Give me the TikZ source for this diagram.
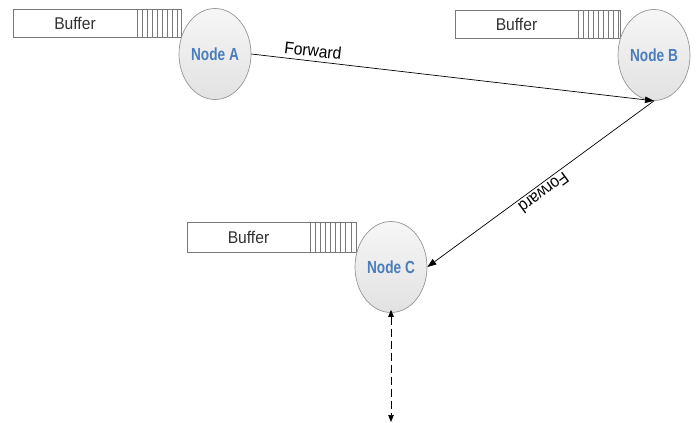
\documentclass[tikz,border=0pt]{standalone}
\usepackage{fontspec}
\setmainfont{Liberation Sans}
\newfontfamily\bufferfont[FakeStretch=0.92]{Liberation Sans}
\newfontfamily\nodefont[FakeStretch=0.78]{Liberation Sans}
\usetikzlibrary{arrows.meta,shapes.geometric,calc}
\definecolor{nodeblue}{RGB}{74,126,187}
\definecolor{nodeedge}{RGB}{150,150,150}
\definecolor{nodetop}{RGB}{246,246,246}
\definecolor{nodebot}{RGB}{226,226,226}
\definecolor{bufedge}{RGB}{120,120,120}
\definecolor{buftextcol}{RGB}{50,50,50}
\tikzset{
  station/.style={ellipse, draw=nodeedge, line width=0.7pt,
    top color=nodetop, bottom color=nodebot,
    minimum width=72pt, minimum height=91pt, inner sep=0pt,
    font=\nodefont\bfseries\fontsize{17.5}{18}\selectfont, text=nodeblue},
  bufbox/.style={draw=bufedge, line width=0.7pt, fill=white,
    minimum height=28pt, inner sep=0pt, anchor=north west},
  hatch/.style={draw=bufedge, line width=0.6pt},
  buftext/.style={font=\bufferfont\fontsize{17}{17}\selectfont, text=buftextcol, inner sep=0pt},
  fwdtext/.style={font=\bufferfont\fontsize{17}{17}\selectfont, text=black},
  link/.style={draw=black, line width=0.7pt, -{Triangle[length=9pt,width=6.5pt]}},
  dlink/.style={draw=black, line width=0.7pt, dash pattern=on 8pt off 4pt,
    {Triangle[length=7pt,width=5.5pt]}-{Triangle[length=7pt,width=5.5pt]}}
}
\begin{document}
\begin{tikzpicture}[x=1pt,y=-1pt]
\useasboundingbox (0,0) rectangle (699,423);

% buffers (drawn first so the stations sit on top)
\node[bufbox, minimum width=168pt] (bufA) at (13,9) {};
\coordinate (hA) at (137,9);
\foreach \k in {0,...,8} \draw[hatch] ([xshift=\k*5pt]hA) -- ++(0,28);
\node[buftext] at ($(bufA.west)!0.5!(hA |- bufA.west)$) {Buffer};

\node[bufbox, minimum width=165pt] (bufB) at (455,10) {};
\coordinate (hB) at (578,10);
\foreach \k in {0,...,8} \draw[hatch] ([xshift=\k*5pt]hB) -- ++(0,28);
\node[buftext] at ($(bufB.west)!0.5!(hB |- bufB.west)$) {Buffer};

\node[bufbox, minimum width=169pt, minimum height=30pt] (bufC) at (187,222) {};
\coordinate (hC) at (310,222);
\foreach \k in {0,...,8} \draw[hatch] ([xshift=\k*5.1pt]hC) -- ++(0,30);
\node[buftext] at ($(bufC.west)!0.5!(hC |- bufC.west)$) {Buffer};

% stations
\node[station] (A) at (215,54) {Node A};
\node[station] (B) at (654,55) {Node B};
\node[station] (C) at (391,267) {Node C};

% forwarding links
\draw[link] (A.east) -- node[fwdtext, sloped, above, pos=0.15, inner sep=4pt] {Forward} (B.south);
\draw[link] (B.south) -- node[fwdtext, sloped, allow upside down, above, pos=0.51, inner sep=2.5pt] {Forward} (C.east);

% link leaving the picture below Node C
\coordinate (out) at (391,422);
\draw[dlink] ([yshift=3pt]C.south) -- (out);
\end{tikzpicture}
\end{document}
